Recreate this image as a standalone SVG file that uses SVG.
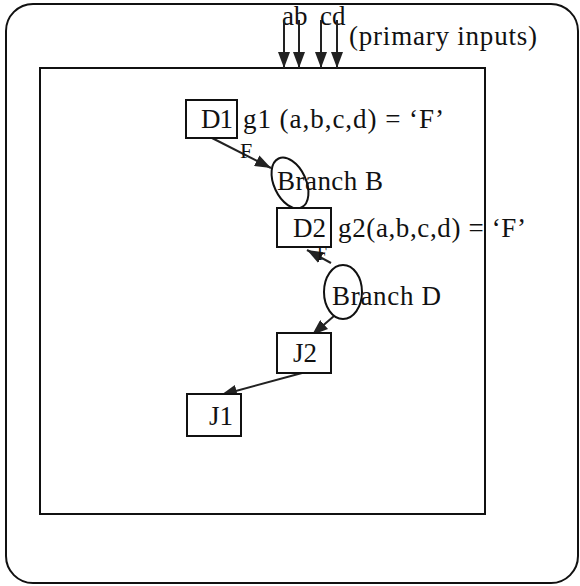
<svg xmlns="http://www.w3.org/2000/svg" width="580" height="586" viewBox="0 0 580 586">
<style>
text{font-family:"Liberation Serif","Times New Roman",serif;font-size:27px;fill:#111}
.frame{fill:none;stroke:#111;stroke-width:2}
.box{fill:#fff;stroke:#111;stroke-width:2}
.edge{stroke:#222;stroke-width:2;fill:none}
.ell{fill:none;stroke:#111;stroke-width:2}
</style>
<defs>
<marker id="ah" markerWidth="17" markerHeight="12" refX="16" refY="6" orient="auto" markerUnits="userSpaceOnUse">
<path d="M0,0 L16,6 L0,12 z" fill="#222"/>
</marker>
</defs>
<rect class="frame" x="6" y="4" width="572" height="579" rx="27"/>
<rect class="frame" x="40" y="68" width="445" height="446"/>
<g id="inputs">
<text x="282" y="25">ab</text>
<text x="320" y="25">cd</text>
<text x="349" y="45" textLength="188">(primary inputs)</text>
</g>
<g id="connectors">
<line class="edge" x1="284" y1="20" x2="284" y2="68" marker-end="url(#ah)"/>
<line class="edge" x1="299" y1="20" x2="299" y2="68" marker-end="url(#ah)"/>
<line class="edge" x1="321" y1="20" x2="321" y2="68" marker-end="url(#ah)"/>
<line class="edge" x1="337" y1="20" x2="337" y2="68" marker-end="url(#ah)"/>
<line class="edge" x1="212" y1="138" x2="271" y2="168" marker-end="url(#ah)"/>
<text x="240" y="158" style="font-size:22px">F</text>
<line class="edge" x1="331" y1="263" x2="307" y2="250" marker-end="url(#ah)"/>
<line class="edge" x1="334" y1="316" x2="312" y2="335" marker-end="url(#ah)"/>
<line class="edge" x1="302" y1="373" x2="221" y2="395" marker-end="url(#ah)"/>
</g>
<g id="D1">
<rect class="box" x="186" y="100" width="51" height="38"/>
<text x="201" y="128" textLength="32">D1</text>
<text x="243" y="128" textLength="201">g1 (a,b,c,d) = ‘F’</text>
</g>
<g id="BranchB">
<ellipse class="ell" cx="290" cy="183" rx="16" ry="27" transform="rotate(-25 290 183)"/>
<text x="277" y="190" textLength="106">Branch B</text>
</g>
<g id="D2">
<rect class="box" x="277" y="208" width="54" height="39"/>
<text x="317" y="260" style="font-size:18px">F</text>
<text x="293" y="237" textLength="33">D2</text>
<text x="338" y="237" textLength="188">g2(a,b,c,d) = ‘F’</text>
</g>
<g id="BranchD">
<ellipse class="ell" cx="343" cy="292" rx="19" ry="27"/>
<text x="332" y="305" textLength="109">Branch D</text>
</g>
<g id="J2">
<rect class="box" x="277" y="333" width="54" height="40"/>
<text x="293" y="362">J2</text>
</g>
<g id="J1">
<rect class="box" x="187" y="394" width="54" height="42"/>
<text x="209" y="425">J1</text>
</g>
</svg>
